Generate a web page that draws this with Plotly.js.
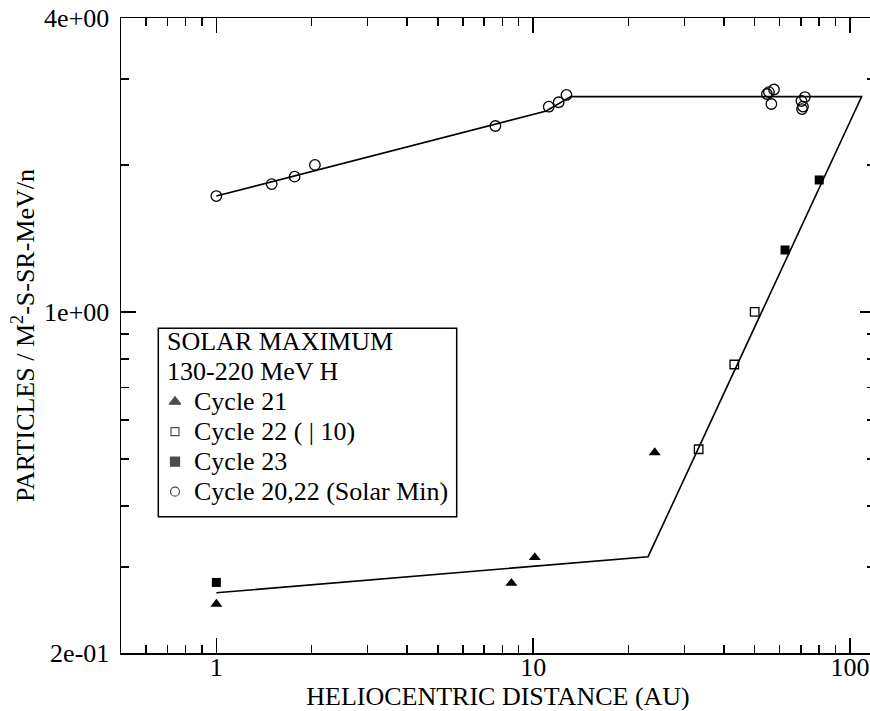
<!DOCTYPE html>
<html>
<head>
<meta charset="utf-8">
<script src="https://cdn.plot.ly/plotly-3.0.1.min.js"></script>
<style>
  html, body { margin: 0; padding: 0; overflow: hidden; background: #fff; }
  #chart { width: 877px; height: 711px; }
</style>
</head>
<body>
<div id="chart"></div>
<script>
// Heliocentric distance (AU) and differential flux for each data set
const cycle21X = [1, 8.54, 10.12, 24.2];
const cycle21Y = [0.252, 0.278, 0.314, 0.515];

const cycle22X = [33.3, 43.15, 50.05];
const cycle22Y = [0.523, 0.780, 1.0];

const cycle23X = [1, 62.4, 80.0];
const cycle23Y = [0.279, 1.339, 1.863];

const solarMinX = [1, 1.495, 1.766, 2.047, 7.60, 11.2, 12.04, 12.74,
                   54.7, 55.5, 57.6, 56.5, 72.1, 70.3, 71.1, 70.6];
const solarMinY = [1.727, 1.827, 1.892, 2.0, 2.403, 2.632, 2.688, 2.782,
                   2.795, 2.82, 2.855, 2.666, 2.755, 2.704, 2.634, 2.603];

// Broken-line model drawn through both regimes
const modelX = [1, 11.0, 13.15, 108.9, 23.06, 1];
const modelY = [1.727, 2.58, 2.76, 2.76, 0.315, 0.2657];

// Axis ticks
const xTickVals = [1, 10, 100];
const xTickText = ['1', '10', '100'];
const xMinorVals = [0.6, 0.7, 0.8, 0.9, 2, 3, 4, 5, 6, 7, 8, 9, 20, 30, 40, 50, 60, 70, 80, 90];
const yTickVals = [0.2, 1, 4];
const yTickText = ['2e-01', '1e+00', '4e+00'];
const yMinorVals = [0.3, 0.4, 0.5, 0.6, 0.7, 0.8, 0.9, 2, 3];

// Legend content
const legendTitleLines = ['SOLAR MAXIMUM', '130-220 MeV H'];
const legendLabels = ['Cycle 21', 'Cycle 22 ( | 10)', 'Cycle 23', 'Cycle 20,22 (Solar Min)'];
const legendSymbols = ['triangle-up', 'square-open', 'square', 'circle-open'];
const legendSizes = [10, 8, 9, 9];

const FONT = 'Liberation Serif, Times New Roman, Times, serif';
const W = 877, H = 711;
const M = { l: 121, r: 2, t: 18, b: 58 };
const plotW = W - M.l - M.r, plotH = H - M.t - M.b;
// pixel -> paper helpers for the legend block
const px = v => (v - M.l) / plotW;
const py = v => (H - M.b - v) / plotH;

const box = { left: 158.3, right: 456.7, top: 328.3, bottom: 516.7 };
const rowY0 = 341.7, rowStep = 30;
const titleX = 164.5, symbolX = 175, labelX = 192;

const axisCommon = {
  type: 'log',
  ticks: 'inside',
  ticklen: 15,
  tickwidth: 1.5,
  tickcolor: '#000',
  showline: true,
  linewidth: 1.5,
  linecolor: '#000',
  mirror: 'ticks',
  showgrid: false,
  zeroline: false,
  automargin: false,
  tickmode: 'array',
  tickfont: { family: FONT, size: 26, color: '#000' }
};

const traces = [
  {
    x: modelX, y: modelY, mode: 'lines', name: 'model',
    line: { color: '#000', width: 1.6 }, showlegend: false, hoverinfo: 'skip'
  },
  {
    x: solarMinX, y: solarMinY, mode: 'markers', name: 'Cycle 20,22 (Solar Min)',
    marker: { symbol: 'circle-open', size: 10.5, color: '#000', line: { width: 1.3, color: '#000' } },
    showlegend: false
  },
  {
    x: cycle21X, y: cycle21Y, mode: 'markers', name: 'Cycle 21',
    marker: { symbol: 'triangle-up', size: 10.5, color: '#000' },
    showlegend: false
  },
  {
    x: cycle22X, y: cycle22Y, mode: 'markers', name: 'Cycle 22',
    marker: { symbol: 'square-open', size: 8.5, color: '#000', line: { width: 1.3, color: '#000' } },
    showlegend: false
  },
  {
    x: cycle23X, y: cycle23Y, mode: 'markers', name: 'Cycle 23',
    marker: { symbol: 'square', size: 9, color: '#000' },
    showlegend: false
  },
  {
    // legend swatches, placed on an overlay axis in plot-fraction units
    x: legendLabels.map(() => px(symbolX)),
    y: legendLabels.map((_, i) => py(rowY0 + rowStep * (i + 2))),
    xaxis: 'x2', yaxis: 'y2', mode: 'markers', showlegend: false, hoverinfo: 'skip',
    marker: { symbol: legendSymbols, size: legendSizes, color: '#000', line: { width: 1.2, color: '#000' } }
  }
];

const annotations = [];
legendTitleLines.forEach((t, i) => annotations.push({
  xref: 'paper', yref: 'paper', x: px(titleX), y: py(rowY0 + rowStep * i),
  xanchor: 'left', yanchor: 'middle', showarrow: false, text: t,
  font: { family: FONT, size: 26, color: '#000' }
}));
legendLabels.forEach((t, i) => annotations.push({
  xref: 'paper', yref: 'paper', x: px(labelX), y: py(rowY0 + rowStep * (i + 2)),
  xanchor: 'left', yanchor: 'middle', showarrow: false, text: t,
  font: { family: FONT, size: 26, color: '#000' }
}));

const layout = {
  width: W, height: H,
  margin: M,
  paper_bgcolor: '#fff', plot_bgcolor: '#fff',
  showlegend: false,
  xaxis: Object.assign({}, axisCommon, {
    range: [Math.log10(0.5), Math.log10(120)],
    tickvals: xTickVals, ticktext: xTickText,
    ticklabelstandoff: -10,
    minor: { tickmode: 'array', tickvals: xMinorVals, ticks: 'inside', ticklen: 8, tickwidth: 1.5, tickcolor: '#000', showgrid: false },
    title: { text: 'HELIOCENTRIC DISTANCE (AU)', font: { family: FONT, size: 26, color: '#000' }, standoff: 0 }
  }),
  yaxis: Object.assign({}, axisCommon, {
    range: [Math.log10(0.2), Math.log10(4)],
    tickvals: yTickVals, ticktext: yTickText,
    ticklabelstandoff: 5,
    minor: { tickmode: 'array', tickvals: yMinorVals, ticks: 'inside', ticklen: 8, tickwidth: 1.5, tickcolor: '#000', showgrid: false },
    title: { text: 'PARTICLES / M<sup>2</sup>-S-SR-MeV/n', font: { family: FONT, size: 26, color: '#000' }, standoff: 2 }
  }),
  xaxis2: { overlaying: 'x', anchor: 'y2', range: [0, 1], visible: false, fixedrange: true },
  yaxis2: { overlaying: 'y', anchor: 'x2', range: [0, 1], visible: false, fixedrange: true },
  shapes: [{
    type: 'rect', xref: 'paper', yref: 'paper',
    x0: px(box.left), x1: px(box.right), y0: py(box.bottom), y1: py(box.top),
    line: { color: '#000', width: 1.5 }, fillcolor: 'rgba(0,0,0,0)', layer: 'above'
  }],
  annotations: annotations
};

Plotly.newPlot('chart', traces, layout, { displayModeBar: false, staticPlot: true });
</script>
</body>
</html>
